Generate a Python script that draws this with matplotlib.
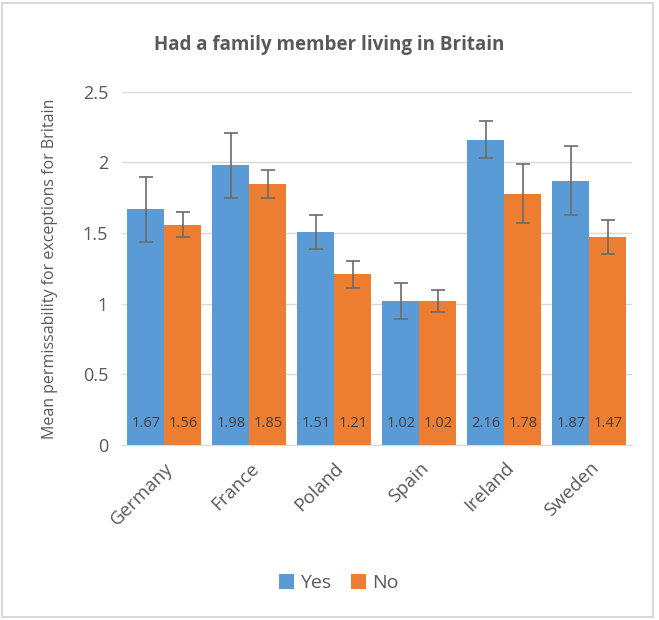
import matplotlib.pyplot as plt
import numpy as np
from matplotlib.patches import Rectangle

countries = ['Germany', 'France', 'Poland', 'Spain', 'Ireland', 'Sweden']
yes_vals = [1.67, 1.98, 1.51, 1.02, 2.16, 1.87]
no_vals = [1.56, 1.85, 1.21, 1.02, 1.78, 1.47]
yes_err = [0.23, 0.23, 0.12, 0.13, 0.13, 0.245]
no_err = [0.09, 0.10, 0.095, 0.08, 0.21, 0.12]

BLUE = '#5B9BD5'
ORANGE = '#ED7D31'
TXT = '#595959'

plt.rcParams['font.family'] = ['Open Sans', 'DejaVu Sans']

fig = plt.figure(figsize=(6.59, 6.2), dpi=100)
ax = fig.add_axes([0.185, 0.282, 0.774, 0.57])

x = np.arange(len(countries))
w = 0.435
eb = dict(ecolor='#6b6b6b', elinewidth=1.2, capsize=5, capthick=1.2)
b1 = ax.bar(x - w / 2, yes_vals, w, color=BLUE, yerr=yes_err, error_kw=eb, label='Yes', zorder=2)
b2 = ax.bar(x + w / 2, no_vals, w, color=ORANGE, yerr=no_err, error_kw=eb, label='No', zorder=2)

# value labels at the foot of each bar
for bars, vals in ((b1, yes_vals), (b2, no_vals)):
    for r, v in zip(bars, vals):
        ax.text(r.get_x() + r.get_width() / 2, 0.15, '%.2f' % v, ha='center', va='center',
                fontsize=10.5, color='#404040', zorder=3)

ax.set_xlim(-0.5, len(countries) - 0.5)
ax.set_ylim(0, 2.5)
ax.set_yticks([0, 0.5, 1, 1.5, 2, 2.5])
ax.set_yticklabels(['0', '0.5', '1', '1.5', '2', '2.5'], fontsize=13, color=TXT)
ax.set_xticks(x)
ax.set_xticklabels(countries, rotation=45, ha='right', rotation_mode='anchor', fontsize=13.5, color=TXT)
ax.tick_params(axis='y', length=0, pad=10)
ax.tick_params(axis='x', length=0, pad=10)
ax.grid(axis='y', color='#D9D9D9', linewidth=1, zorder=0)
for s in ['top', 'right', 'left']:
    ax.spines[s].set_visible(False)
ax.spines['bottom'].set_color('#D9D9D9')
ax.set_ylabel('Mean permissability for exceptions for Britain', fontsize=11.5, color=TXT, labelpad=18)

fig.text(0.5, 0.928, 'Had a family member living in Britain', ha='center', va='center',
         fontsize=13.5, fontweight='bold', color=TXT)

ax.legend(loc='center', bbox_to_anchor=(0.425, -0.39), ncol=2, frameon=False, fontsize=14,
          handlelength=0.8, handleheight=0.8, handletextpad=0.3, columnspacing=1.0, labelcolor=TXT)

fig.patches.append(Rectangle((0.003, 0.005), 0.988, 0.99, transform=fig.transFigure,
                             fill=False, edgecolor='#D9D9D9', linewidth=1.5))

fig.savefig('out.png', dpi=100)
